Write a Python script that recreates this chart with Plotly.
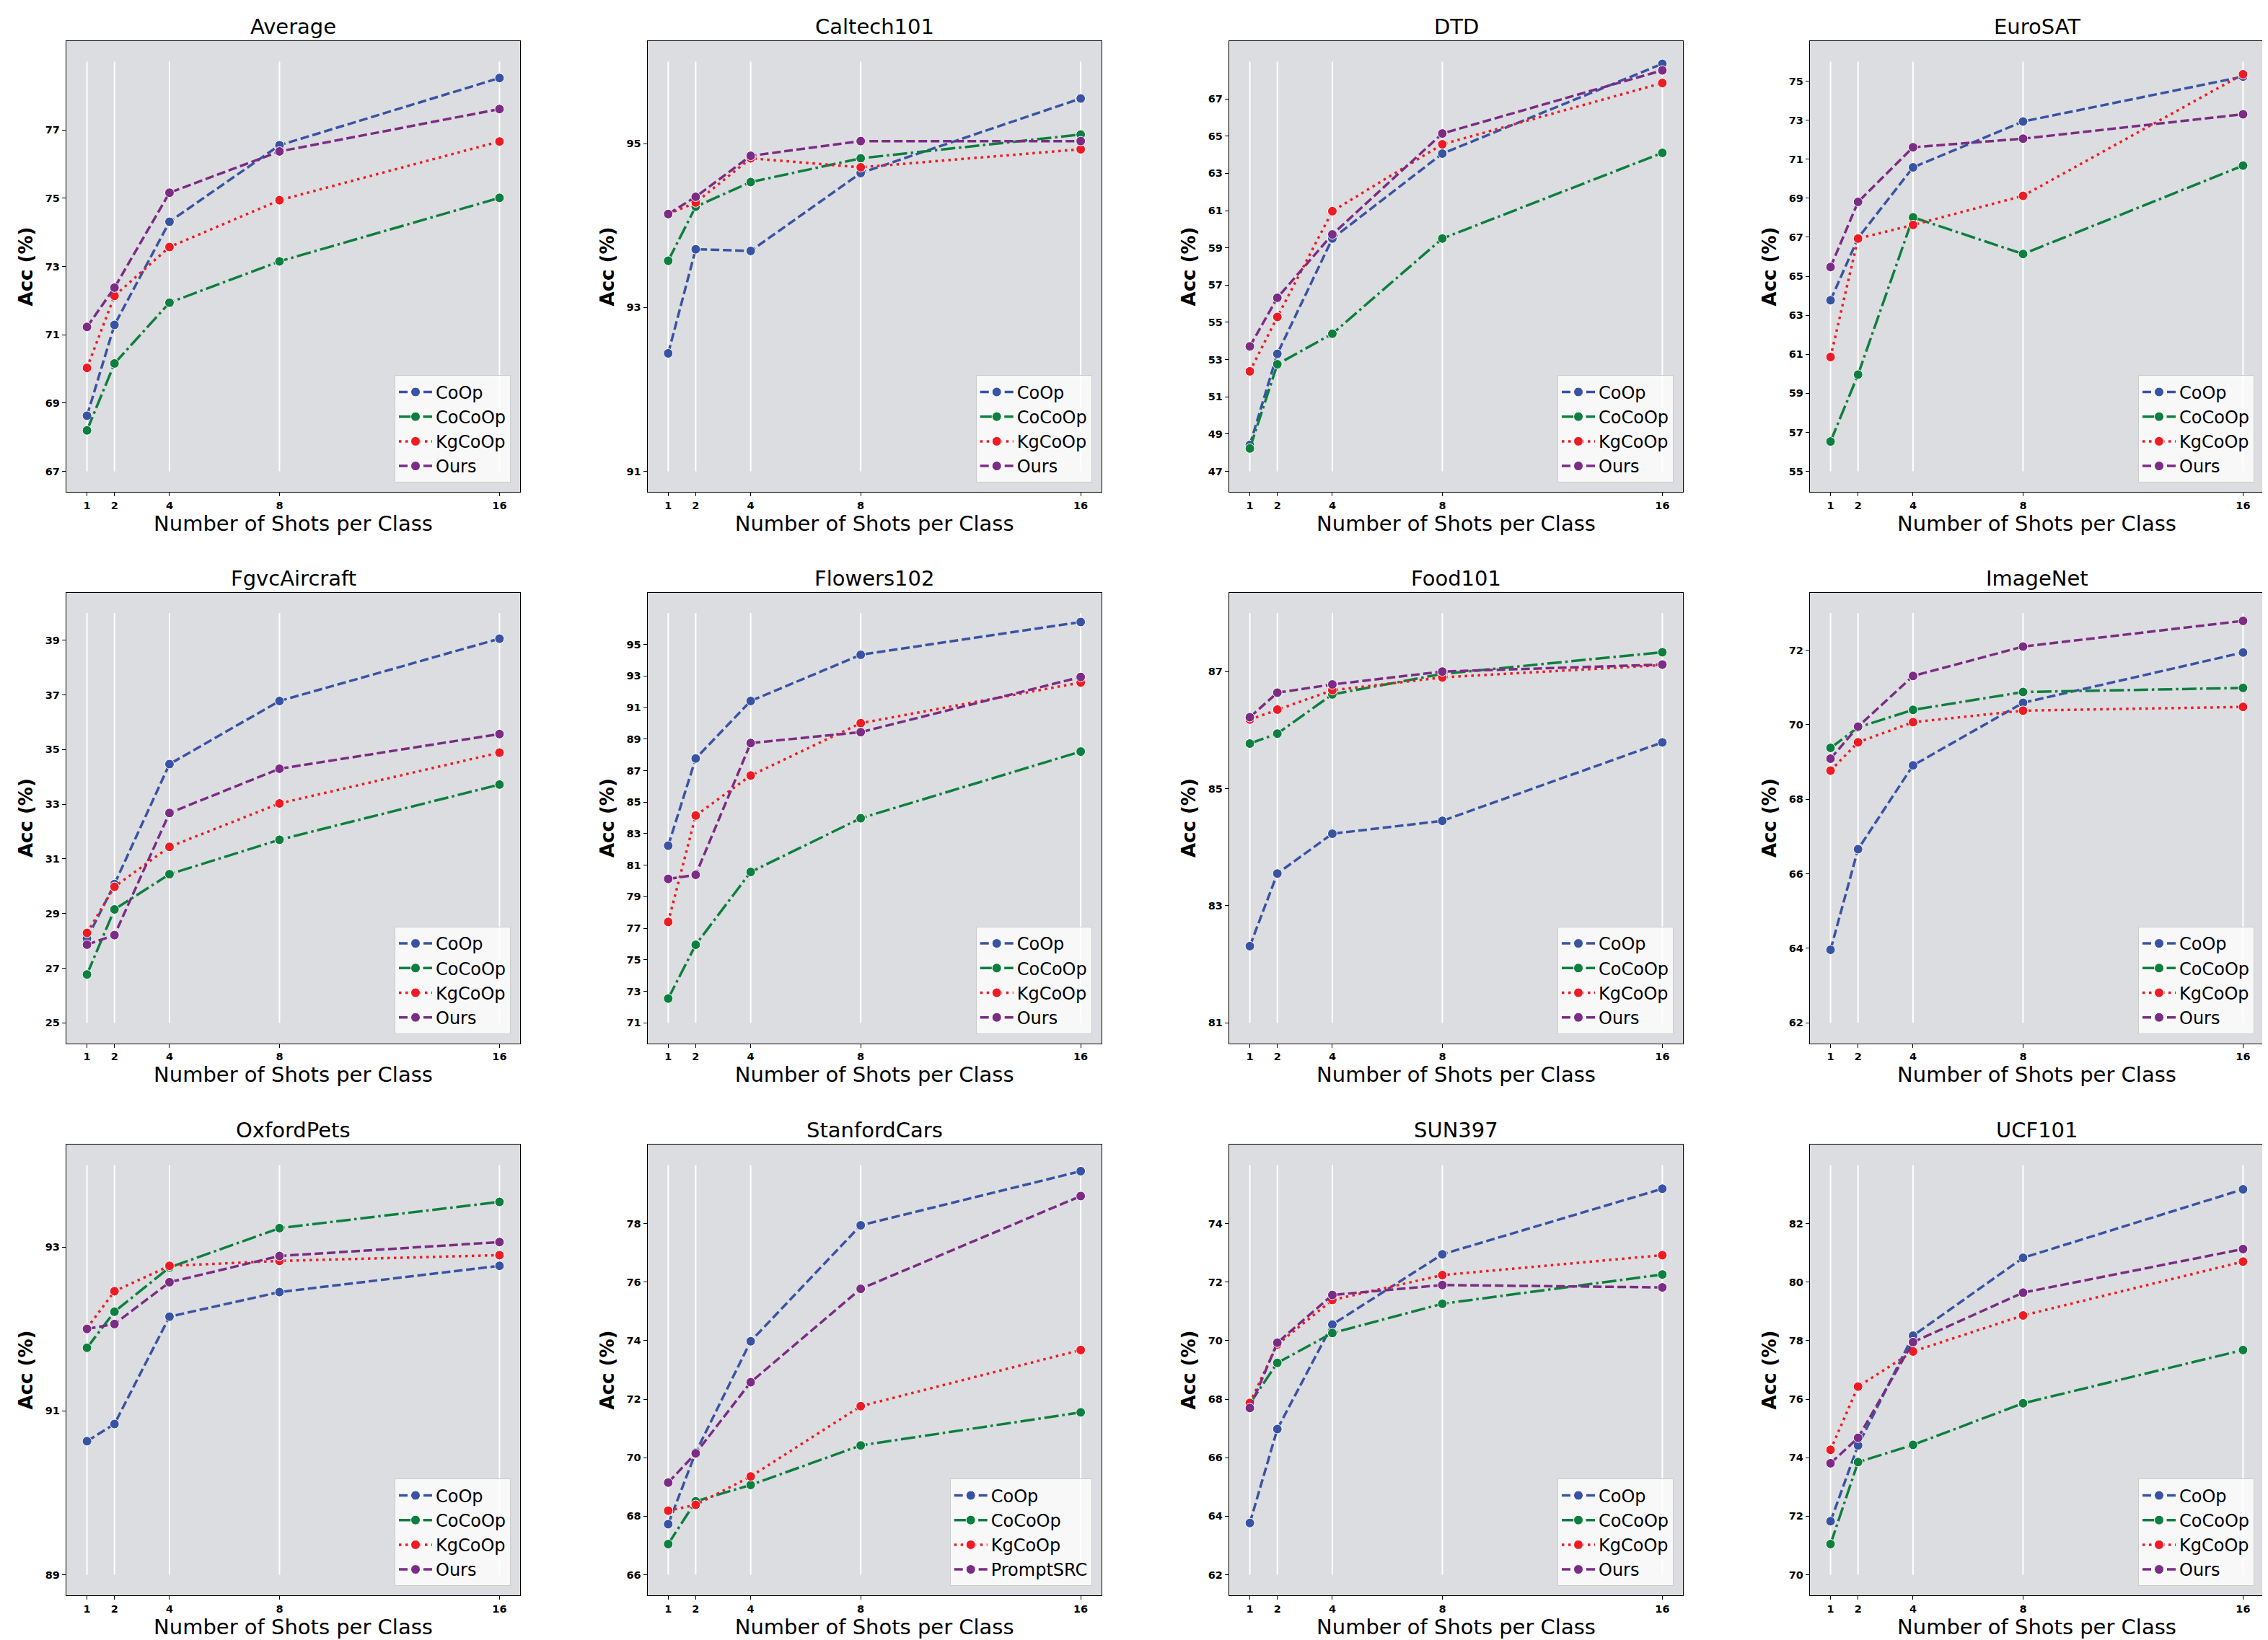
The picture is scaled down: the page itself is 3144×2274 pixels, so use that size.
import math
import plotly.graph_objects as go

# ---------------- data ----------------
DATASETS = ["Average", "Caltech101", "DTD", "EuroSAT",
            "FgvcAircraft", "Flowers102", "Food101", "ImageNet",
            "OxfordPets", "StanfordCars", "SUN397", "UCF101"]
SHOTS = [1, 2, 4, 8, 16]
METHODS = ["CoOp", "CoCoOp", "KgCoOp", "Ours"]
CARS_LAST_NAME = "PromptSRC"

COOP = [
    [68.63, 71.29, 74.31, 76.55, 78.52],
    [92.44, 93.71, 93.69, 94.64, 95.55],
    [48.42, 53.31, 59.50, 64.06, 68.88],
    [63.77, 66.96, 70.58, 72.93, 75.23],
    [28.08, 30.08, 34.47, 36.78, 39.06],
    [82.24, 87.77, 91.42, 94.35, 96.43],
    [82.31, 83.55, 84.23, 84.45, 85.79],
    [63.96, 66.66, 68.91, 70.59, 71.94],
    [90.63, 90.84, 92.15, 92.45, 92.77],
    [67.73, 70.18, 73.98, 77.94, 79.79],
    [63.77, 66.98, 70.55, 72.95, 75.19],
    [71.83, 74.42, 78.17, 80.83, 83.17],
]
COCOOP = [
    [68.20, 70.16, 71.94, 73.15, 75.01],
    [93.57, 94.23, 94.53, 94.82, 95.11],
    [48.23, 52.75, 54.39, 59.50, 64.10],
    [56.53, 59.96, 68.02, 66.14, 70.67],
    [26.77, 29.15, 30.44, 31.70, 33.72],
    [72.54, 75.95, 80.57, 83.98, 88.21],
    [85.77, 85.94, 86.61, 86.96, 87.33],
    [69.38, 69.93, 70.40, 70.88, 70.99],
    [91.77, 92.21, 92.75, 93.23, 93.55],
    [67.05, 68.51, 69.07, 70.42, 71.55],
    [67.85, 69.24, 70.26, 71.26, 72.26],
    [71.05, 73.85, 74.44, 75.86, 77.68],
]
KGCOOP = [
    [70.03, 72.14, 73.57, 74.94, 76.66],
    [94.14, 94.28, 94.82, 94.71, 94.93],
    [52.37, 55.29, 60.97, 64.56, 67.85],
    [60.86, 66.93, 67.63, 69.12, 75.35],
    [28.29, 29.98, 31.44, 33.03, 34.89],
    [77.40, 84.15, 86.69, 90.01, 92.59],
    [86.18, 86.35, 86.68, 86.90, 87.11],
    [68.77, 69.53, 70.07, 70.38, 70.48],
    [92.01, 92.46, 92.77, 92.83, 92.90],
    [68.19, 68.39, 69.36, 71.76, 73.68],
    [67.87, 69.87, 71.39, 72.24, 72.92],
    [74.27, 76.43, 77.63, 78.86, 80.70],
]
OURS = [
    [71.23, 72.38, 75.16, 76.37, 77.61],
    [94.14, 94.35, 94.85, 95.03, 95.03],
    [53.71, 56.32, 59.72, 65.14, 68.53],
    [65.47, 68.81, 71.61, 72.05, 73.30],
    [27.86, 28.21, 32.68, 34.30, 35.57],
    [80.13, 80.39, 88.75, 89.44, 92.94],
    [86.22, 86.64, 86.78, 87.00, 87.12],
    [69.09, 69.95, 71.31, 72.10, 72.79],
    [92.00, 92.06, 92.57, 92.89, 93.06],
    [69.15, 70.15, 72.58, 75.77, 78.94],
    [67.70, 69.93, 71.56, 71.90, 71.82],
    [73.81, 74.68, 77.95, 79.64, 81.13],
]

# ---------------- style ----------------
W, H = 3144, 2274
COL_LEFT = [84, 889.7, 1696, 2501]
ROW_TOP = [49, 813.6, 1579]
AX_W, AX_H = 629, 625
COLORS = ["#3953A4", "#0D7F3F", "#ED1C24", "#7B2C84"]
DASHES = ["12px,5px", "20px,5px,3.5px,5px", "3.5px,5.5px", "12px,5px"]
BG = "#DCDDE0"
FONT = "DejaVu Sans"

fig = go.Figure()
layout = dict(
    width=W, height=H,
    margin=dict(l=0, r=0, t=0, b=0),
    paper_bgcolor="white",
    plot_bgcolor=BG,
    font=dict(family=FONT, color="black"),
    annotations=[], shapes=[],
)

series_all = [COOP, COCOOP, KGCOOP, OURS]

for i, name in enumerate(DATASETS):
    r, c = divmod(i, 4)
    n = i + 1
    sfx = "" if n == 1 else str(n)
    left, top = COL_LEFT[c], ROW_TOP[r]
    xd = [left / W, (left + AX_W) / W]
    yd = [1 - (top + AX_H) / H, 1 - top / H]

    vals = [s[i] for s in series_all]
    vmin = min(min(v) for v in vals)
    vmax = max(max(v) for v in vals)
    lo = math.floor(vmin) - 1
    hi = math.ceil(vmax)
    pad = 0.05 * (hi - lo)
    ticks = list(range(lo, hi, 2))

    common_axis = dict(
        showline=True, mirror=True, linecolor="black", linewidth=1.3,
        showgrid=False, zeroline=False,
        ticks="outside", ticklen=5, tickwidth=1.3, tickcolor="black",
        tickfont=dict(family=FONT, size=14.5, color="black", weight="bold"),
    )
    layout["xaxis" + sfx] = dict(
        common_axis, domain=xd, anchor="y" + sfx,
        range=[0.25, 16.75], tickvals=SHOTS, ticktext=[str(s) for s in SHOTS],
        title=dict(text="Number of Shots per Class",
                   font=dict(family=FONT, size=29, color="black"), standoff=6),
    )
    layout["yaxis" + sfx] = dict(
        common_axis, domain=yd, anchor="x" + sfx,
        range=[lo - pad, hi + pad], tickvals=ticks,
        title=dict(text="Acc (%)",
                   font=dict(family=FONT, size=26, color="black", weight="bold"),
                   standoff=9),
    )

    # white vertical guide lines at each shot count
    for s in SHOTS:
        layout["shapes"].append(dict(
            type="line", xref="x" + sfx, yref="y" + sfx,
            x0=s, x1=s, y0=lo, y1=hi, layer="below",
            line=dict(color="white", width=2),
        ))

    # subplot title
    layout["annotations"].append(dict(
        text=name, xref="paper", yref="paper",
        x=(left + AX_W / 2) / W, y=1 - (top - 19.6) / H,
        xanchor="center", yanchor="middle", showarrow=False,
        font=dict(family=FONT, size=29, color="black"),
    ))

    leg = "legend" + sfx
    layout[leg] = dict(
        x=(left + AX_W - 13) / W, y=1 - (top + AX_H - 12.6) / H,
        xanchor="right", yanchor="bottom",
        bgcolor="rgba(255,255,255,0.8)", bordercolor="#CCCCCC", borderwidth=1,
        font=dict(family=FONT, size=24, color="black"),
        itemwidth=46, tracegroupgap=0,
    )

    for k, m in enumerate(METHODS):
        label = CARS_LAST_NAME if (name == "StanfordCars" and k == 3) else m
        fig.add_trace(go.Scatter(
            x=SHOTS, y=vals[k], mode="lines+markers", name=label,
            xaxis="x" + sfx, yaxis="y" + sfx, legend=leg,
            line=dict(color=COLORS[k], width=3.5, dash=DASHES[k]),
            marker=dict(symbol="circle", size=13, color=COLORS[k],
                        line=dict(color="white", width=1)),
        ))

fig.update_layout(**layout)
fig.write_html("out.html")
